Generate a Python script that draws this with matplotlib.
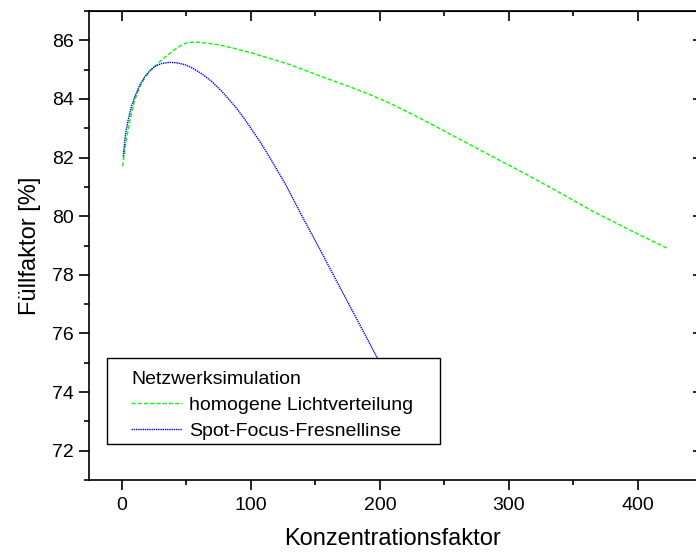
import matplotlib.pyplot as plt
from matplotlib.patches import Rectangle
from matplotlib.ticker import MultipleLocator

plt.rcParams['font.family'] = ['Liberation Sans', 'DejaVu Sans']

# homogene Lichtverteilung
homo_x = [0.8, 3, 5.1, 7.5, 10.3, 14, 18, 22, 27.1, 31, 36.1, 41, 46.5, 51,
          56.8, 65, 74.8, 87, 100.7, 115, 130.4, 145, 161.4, 177, 192.4, 208,
          223.3, 243, 263.4, 288, 313.8, 340, 365.4, 395, 423.5]
homo_y = [81.70, 82.45, 82.95, 83.50, 83.98, 84.40, 84.72, 84.95, 85.17, 85.33,
          85.51, 85.68, 85.84, 85.92, 85.94, 85.91, 85.85, 85.73, 85.57, 85.38,
          85.17, 84.93, 84.66, 84.41, 84.15, 83.85, 83.52, 83.07, 82.59, 82.02,
          81.42, 80.79, 80.16, 79.50, 78.89]

# Spot-Focus-Fresnellinse
spot_x = [1.2, 3, 5.1, 7.5, 10.3, 14, 18, 22, 25.8, 31, 37.4, 43, 49, 55, 62,
          69.7, 78, 87.8, 95, 102, 110, 118, 127.8, 140, 153.6, 166, 179.4,
          197.5, 200]
spot_y = [82.04, 82.80, 83.29, 83.72, 84.09, 84.47, 84.77, 84.97, 85.11, 85.21,
          85.25, 85.23, 85.17, 85.05, 84.86, 84.60, 84.24, 83.75, 83.33, 82.88,
          82.35, 81.76, 81.02, 79.98, 78.87, 77.83, 76.72, 75.21, 75.00]

legend_title = 'Netzwerksimulation'
labels = ['homogene Lichtverteilung', 'Spot-Focus-Fresnellinse']

W, H = 696, 553
fig = plt.figure(figsize=(W / 100, H / 100), dpi=100)
ax = fig.add_axes([89 / W, 73 / H, 608 / W, 469 / H])

l1, = ax.plot(homo_x, homo_y, color='#00ff00', lw=1.0, ls=(0, (3, 1.5)))
l2, = ax.plot(spot_x, spot_y, color='#0000ff', lw=1.0, ls=(0, (1, 0.6)))

ax.set_xlim(-25.3, 445.7)
ax.set_ylim(71, 87)
ax.xaxis.set_major_locator(MultipleLocator(100))
ax.xaxis.set_minor_locator(MultipleLocator(50))
ax.yaxis.set_major_locator(MultipleLocator(2))
ax.yaxis.set_minor_locator(MultipleLocator(1))

for s in ax.spines.values():
    s.set_linewidth(1.2)

ax.tick_params(axis='both', which='major', labelsize=14, width=1.2, length=7)
ax.tick_params(axis='both', which='minor', width=1.2, length=3.5)
ax.tick_params(axis='x', which='both', direction='out', pad=5, top=False)
ax.tick_params(axis='y', which='both', direction='out', pad=4, right=False)

# inward ticks on top and right
top = ax.secondary_xaxis('top')
top.xaxis.set_major_locator(MultipleLocator(100))
top.xaxis.set_minor_locator(MultipleLocator(50))
top.tick_params(which='major', direction='in', length=7, width=1.2, labeltop=False)
top.tick_params(which='minor', direction='in', length=3.5, width=1.2)
right = ax.secondary_yaxis('right')
right.yaxis.set_major_locator(MultipleLocator(2))
right.yaxis.set_minor_locator(MultipleLocator(1))
right.tick_params(which='major', direction='in', length=3, width=1.2, labelright=False)
right.tick_params(which='minor', length=0)

ax.set_xlabel('Konzentrationsfaktor', fontsize=17, labelpad=10)
ax.set_ylabel('Füllfaktor [%]', fontsize=17, labelpad=8)

# legend box on figure level so it sits over the curves
box = Rectangle((107 / W, 109 / H), 333 / W, 86 / H, transform=fig.transFigure,
                facecolor='white', edgecolor='black', lw=1.0, zorder=3)
fig.add_artist(box)
leg = fig.legend([l1, l2], labels, title=legend_title, loc='upper left',
                 bbox_to_anchor=(131 / W, 1 - 371 / H), bbox_transform=fig.transFigure,
                 borderaxespad=0, borderpad=0, fontsize=14, title_fontsize=14,
                 alignment='left', handlelength=2.6, handletextpad=0.4,
                 labelspacing=0.42, frameon=False)
leg.set_zorder(5)

fig.savefig('out.png', dpi=100)
